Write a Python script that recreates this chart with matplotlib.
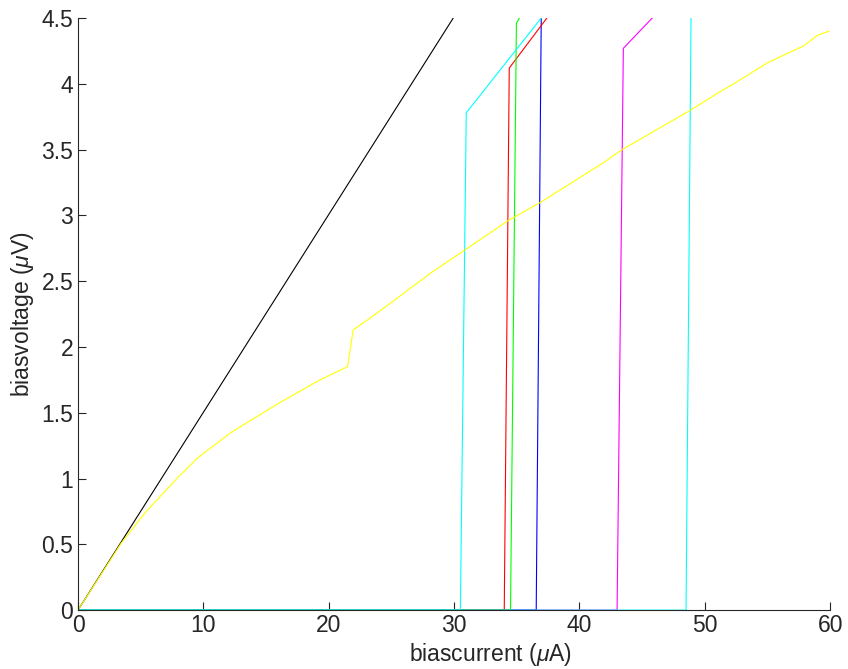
import matplotlib
matplotlib.use("Agg")
import matplotlib.pyplot as plt
from matplotlib.ticker import FuncFormatter

plt.rcParams['font.family'] = ['Liberation Sans', 'DejaVu Sans']
plt.rcParams['mathtext.fontset'] = 'custom'
plt.rcParams['mathtext.it'] = 'Liberation Sans:italic'
plt.rcParams['mathtext.rm'] = 'Liberation Sans'

# black reference line
black_x = [0, 29.93]
black_y = [0, 4.5]

# yellow curve
yellow_x = [0, 3.45, 5.35, 7.98, 9.58, 12.2, 15.96, 19.3, 21.5, 21.95, 23.3, 25.3,
            28.1, 30.9, 32.6, 34.3, 36.9, 41.9, 42.5, 43.4, 47.4, 48.85, 50.2,
            51.2, 52.3, 55.0, 57.9, 59.0, 59.9]
yellow_y = [0, 0.51, 0.74, 1.01, 1.16, 1.35, 1.57, 1.75, 1.85, 2.13, 2.22, 2.36,
            2.56, 2.74, 2.85, 2.96, 3.10, 3.40, 3.44, 3.50, 3.72, 3.80, 3.88,
            3.94, 4.0, 4.16, 4.29, 4.37, 4.40]

# switching traces (zero until critical current, then jump)
cyan1_x = [0, 30.5, 30.97, 36.95]
cyan1_y = [0, 0, 3.78, 4.5]
red_x = [0, 34.0, 34.4, 37.4]
red_y = [0, 0, 4.12, 4.5]
green_x = [0, 34.5, 34.97, 35.2]
green_y = [0, 0, 4.46, 4.5]
blue_x = [0, 36.55, 36.95]
blue_y = [0, 0, 4.5]
magenta_x = [0, 43.0, 43.5, 45.8]
magenta_y = [0, 0, 4.27, 4.5]
cyan2_x = [0, 48.5, 48.9]
cyan2_y = [0, 0, 4.5]

fig = plt.figure(figsize=(8.48, 6.69), dpi=100)
ax = fig.add_axes([0.092, 0.088, 0.887, 0.885])

lw = 0.8
ax.plot(black_x, black_y, color='black', lw=lw)
ax.plot(magenta_x, magenta_y, color='magenta', lw=lw)
ax.plot(blue_x, blue_y, color='blue', lw=lw)
ax.plot(red_x, red_y, color='red', lw=lw)
ax.plot(green_x, green_y, color='#00ff00', lw=lw)
ax.plot(cyan1_x, cyan1_y, color='cyan', lw=lw)
ax.plot(cyan2_x, cyan2_y, color='cyan', lw=lw)
ax.plot(yellow_x, yellow_y, color='yellow', lw=lw)

ax.set_xlim(0, 60)
ax.set_ylim(0, 4.5)
ax.set_xticks(range(0, 61, 10))
ax.set_yticks([i * 0.5 for i in range(10)])
ax.yaxis.set_major_formatter(FuncFormatter(lambda v, p: '%g' % v))

for s in ('top', 'right'):
    ax.spines[s].set_visible(False)
for s in ('left', 'bottom'):
    ax.spines[s].set_color('#262626')
    ax.spines[s].set_linewidth(0.8)
ax.tick_params(direction='in', length=6, width=0.8, colors='#262626',
               labelsize=16.5, labelcolor='#262626')
ax.tick_params(axis='x', pad=3)

ax.set_xlabel(r'biascurrent ($\mu$A)', fontsize=16.5, color='#262626')
ax.set_ylabel(r'biasvoltage ($\mu$V)', fontsize=16.5, color='#262626', labelpad=4)
ax.xaxis.set_label_coords(0.548, -0.052)

plt.savefig('out.png', dpi=100)
